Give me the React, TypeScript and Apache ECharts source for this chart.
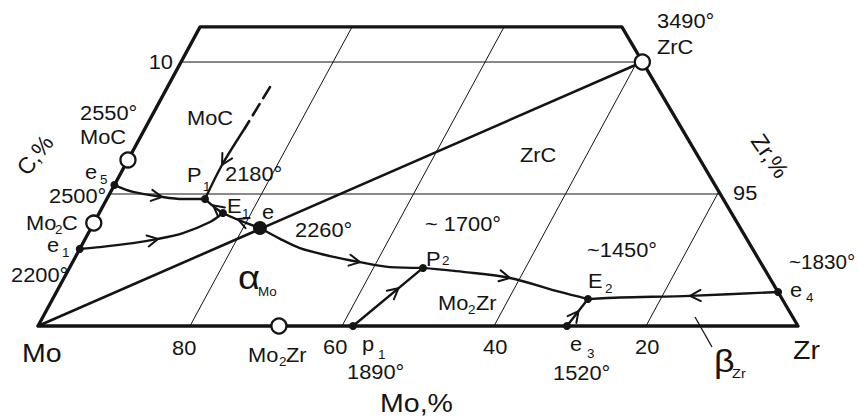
import { useEffect, useRef } from "react";
import * as echarts from "echarts";

// A composition is [Zr-scale %, C %]. The Zr scale is read where a line parallel
// to the Mo–C side meets the Mo–Zr base (base reading Mo % = 100 − Zr-scale).
type Pt = [number, number];

// Enlarged Mo-rich corner: carbon vertex lies off the drawing at C_APEX % C.
const C_APEX = 25.45;
const APEX_U = 47.9; // carbon vertex in plot units (Mo→Zr base = 100 units)
const APEX_V = 88.4;
const C_TOP = 11.33; // upper cut of the section
const V_MAX = 40;

const moTicks = [80, 60, 40, 20];
const carbonLevels = [10, 5];

const outline: Pt[] = [[0, 0], [0, C_TOP], [55.5, C_TOP], [100, 0], [0, 0]];

// invariant points
const e5: Pt = [0, 5.34];
const e1: Pt = [0, 2.92];
const P1: Pt = [12.92, 4.81];
const E1: Pt = [16.28, 4.28];
const eS: Pt = [22.22, 3.71];
const P2: Pt = [46.52, 2.2];
const E2: Pt = [70.44, 1.02];
const e4: Pt = [94.95, 1.29];
const p1: Pt = [41.45, 0];
const e3: Pt = [69.6, 0];

// compounds
const MoC: Pt = [0, 6.29];
const Mo2C: Pt = [0, 3.9];
const Mo2Zr: Pt = [31.7, 0];
const ZrC: Pt = [60.7, 10];

// monovariant curves
const curveE5P1: Pt[] = [e5, [2.95, 5.08], [7.12, 4.89], [10.02, 4.81], P1];
const curveE1E1: Pt[] = [e1, [2.53, 2.99], [6.58, 3.14], [9.59, 3.3], [12.45, 3.52], [15.22, 3.94], E1];
const curveP1E1e: Pt[] = [P1, E1, eS];
const curveEP2: Pt[] = [eS, [25.64, 3.3], [28.91, 2.95], [33.43, 2.65], [37.81, 2.42], [42.11, 2.23], P2];
const curveP2E2: Pt[] = [P2, [52.07, 2.05], [58.68, 1.82], [66.26, 1.29], E2];
const curveE4E2: Pt[] = [e4, [83.65, 1.14], [74.55, 1.08], E2];
const curveP1P2: Pt[] = [p1, P2];
const curveE3E2: Pt[] = [e3, E2];
const curveEE1: Pt[] = [eS, E1];
const curveE1P1: Pt[] = [E1, P1];
const mocDashed: Pt[] = [[13.49, 9.05], [13.12, 7.5]];
const mocSolid: Pt[] = [[13.12, 7.5], [12.73, 6.1], P1];
const tieMoZrC: Pt[] = [[0, 0], ZrC];

// arrow marks: curve and position along it (segment index + fraction)
const arrows: [Pt[], number][] = [
  [curveE5P1, 2],
  [curveE1E1, 3],
  [curveEE1, 0.6],
  [curveE1P1, 0.55],
  [mocSolid, 1],
  [curveEP2, 4],
  [curveP2E2, 2],
  [curveP1P2, 0.65],
  [curveE3E2, 0.55],
  [curveE4E2, 1],
];

const INK = "#141414";
const FONT = '"Liberation Sans", Arial, sans-serif';
const SX = 1.12;

function toXY(p: Pt): [number, number] {
  const f = p[1] / C_APEX;
  return [p[0] + f * APEX_U, f * APEX_V];
}

function arrowDatum(curve: Pt[], at: number): number[] {
  const pts = curve.map(toXY);
  const i = Math.floor(at);
  const f = at - i;
  let tip: number[];
  let a: number[];
  let b: number[];
  if (f === 0 && i > 0 && i < pts.length - 1) {
    tip = pts[i];
    a = pts[i - 1];
    b = pts[i + 1];
  } else {
    a = pts[i];
    b = pts[i + 1];
    tip = [a[0] + (b[0] - a[0]) * f, a[1] + (b[1] - a[1]) * f];
  }
  const dx = b[0] - a[0];
  const dy = b[1] - a[1];
  const len = Math.hypot(dx, dy) || 1;
  return [tip[0], tip[1], tip[0] - dx / len, tip[1] - dy / len];
}

function lineSeries(pts: Pt[], width: number, extra: any = {}) {
  return {
    type: "line",
    data: pts.map(toXY),
    symbol: "none",
    clip: false,
    silent: true,
    smooth: extra.smooth ?? false,
    lineStyle: { color: INK, width, opacity: 1, type: extra.type ?? "solid", cap: "round", join: "round" },
    z: extra.z ?? 3,
  };
}

function label(text: string, x: number, y: number, size = 19.5, extra: any = {}) {
  const { rotation, scaleX, ...style } = extra;
  return {
    type: "text",
    x,
    y,
    rotation: rotation ?? 0,
    scaleX: scaleX ?? SX,
    z: 100,
    silent: true,
    style: {
      text,
      fontSize: size,
      fontFamily: FONT,
      fill: INK,
      align: "left",
      verticalAlign: "middle",
      textAlign: "left",
      textVerticalAlign: "middle",
      ...style,
    },
  };
}

const SUB = 12;

export default function App() {
  const ref = useRef<HTMLDivElement>(null);

  useEffect(() => {
    if (!ref.current) return;
    const chart = echarts.init(ref.current, undefined, { renderer: "svg" });

    const isoC = carbonLevels.map((c) => lineSeries([[0, c], [100 - (100 * c) / C_APEX, c]], 1, { z: 1 }));
    const isoZr = moTicks.map((m) => {
      const zr = 100 - m;
      const cEnd = Math.min(C_TOP, ((100 - zr) * C_APEX) / 100);
      return lineSeries([[zr, 0], [zr, cEnd]], 1, { z: 1 });
    });

    const curves = [curveE5P1, curveE1E1, curveP1E1e, curveEP2, curveP2E2, curveE4E2, curveP1P2, curveE3E2].map(
      (c) => lineSeries(c, 2.4, { smooth: 0.3 })
    );

    const graphic = [
      label("10", 173, 62, 19.5, { align: "right", textAlign: "right" }),
      label("2550°", 80, 113),
      label("MoC", 80, 137),
      label("e", 85, 172),
      label("5", 100, 180, SUB),
      label("2500°", 49, 196),
      label("Mo", 26, 223),
      label("2", 55, 230, SUB),
      label("C", 62, 223),
      label("e", 47, 245),
      label("1", 62, 253, SUB),
      label("2200°", 11, 275),
      label("MoC", 187, 118),
      label("P", 187, 175),
      label("1", 203, 187, SUB),
      label("2180°", 225, 174),
      label("E", 227, 206),
      label("1", 242, 214, SUB),
      label("e", 262, 212),
      label("2260°", 295, 230),
      label("ZrC", 520, 155),
      label("3490°", 657, 21),
      label("ZrC", 657, 47),
      label("95", 733, 193),
      label("~ 1700°", 425, 224),
      label("P", 426, 259),
      label("2", 442, 261, SUB),
      label("Mo", 438, 303),
      label("2", 468, 310, SUB),
      label("Zr", 476, 303),
      label("α", 238, 277, 34),
      label("Mo", 258, 292, SUB),
      label("~1450°", 587, 250),
      label("E", 588, 281),
      label("2", 605, 289, SUB),
      label("~1830°", 789, 262, 19.5, { scaleX: 1.06 }),
      label("e", 790, 290),
      label("4", 806, 298, SUB),
      label("e", 570, 344),
      label("3", 587, 354, SUB),
      label("1520°", 553, 373),
      label("p", 362, 344),
      label("1", 378, 355, SUB),
      label("1890°", 347, 372),
      label("80", 172, 348),
      label("60", 323, 347),
      label("40", 483, 347),
      label("20", 635, 347),
      label("Mo", 248, 355),
      label("2", 279, 362, SUB),
      label("Zr", 286, 355),
      label("β", 714, 361, 32),
      label("Zr", 732, 374, 13),
      label("Mo", 22, 353, 25.5),
      label("Zr", 793, 350, 25.5),
      label("Mo,%", 380, 403, 25.5),
      label("C,%", 35, 155, 23, { rotation: 0.9, scaleX: 1, align: "center", textAlign: "center" }),
      label("Zr,%", 770, 156, 23, { rotation: -0.97, scaleX: 1, align: "center", textAlign: "center" }),
      {
        type: "line",
        z: 100,
        silent: true,
        shape: { x1: 695, y1: 317, x2: 712, y2: 347 },
        style: { stroke: INK, lineWidth: 1.3 },
      },
    ];

    chart.setOption({
      animation: false,
      backgroundColor: "#ffffff",
      grid: { left: 38, right: 60, top: 22, bottom: 91 },
      xAxis: { type: "value", min: 0, max: 100, show: false },
      yAxis: { type: "value", min: 0, max: V_MAX, show: false },
      graphic,
      series: [
        ...isoC,
        ...isoZr,
        lineSeries(outline, 3.3, { z: 4 }),
        lineSeries(tieMoZrC, 2.6),
        lineSeries(mocDashed, 2.6, { type: [13, 7] }),
        lineSeries(mocSolid, 2.4, { smooth: 0.3 }),
        ...curves,
        {
          type: "custom",
          coordinateSystem: "cartesian2d",
          silent: true,
          clip: false,
          z: 5,
          encode: { x: [0, 2], y: [1, 3] },
          data: arrows.map(([c, at]) => arrowDatum(c, at)),
          renderItem: (_params: any, api: any) => {
            const p = api.coord([api.value(0), api.value(1)]);
            const q = api.coord([api.value(2), api.value(3)]);
            let dx = p[0] - q[0];
            let dy = p[1] - q[1];
            const len = Math.hypot(dx, dy) || 1;
            dx /= len;
            dy /= len;
            const L = 12;
            const a = 0.48;
            const ca = Math.cos(a);
            const sa = Math.sin(a);
            const b1 = [p[0] - L * (dx * ca - dy * sa), p[1] - L * (dy * ca + dx * sa)];
            const b2 = [p[0] - L * (dx * ca + dy * sa), p[1] - L * (dy * ca - dx * sa)];
            return {
              type: "polyline",
              shape: { points: [b1, p, b2] },
              style: { stroke: INK, lineWidth: 2, fill: "none", lineCap: "round", lineJoin: "miter" },
            };
          },
        },
        {
          type: "scatter",
          clip: false,
          silent: true,
          z: 6,
          symbolSize: 8,
          itemStyle: { color: INK, opacity: 1 },
          data: [e5, e1, P1, E1, P2, E2, e4, p1, e3].map(toXY),
        },
        {
          type: "scatter",
          clip: false,
          silent: true,
          z: 6,
          symbolSize: 14,
          itemStyle: { color: INK, opacity: 1 },
          data: [toXY(eS)],
        },
        {
          type: "scatter",
          clip: false,
          silent: true,
          z: 7,
          symbolSize: 15,
          itemStyle: { color: "#ffffff", borderColor: INK, borderWidth: 2.3, opacity: 1 },
          data: [MoC, Mo2C, Mo2Zr, ZrC].map(toXY),
        },
      ],
    });

    return () => chart.dispose();
  }, []);

  return (
    <div
      ref={ref}
      style={{ position: "fixed", left: 0, top: 0, width: 858, height: 417, background: "#fff" }}
    />
  );
}
